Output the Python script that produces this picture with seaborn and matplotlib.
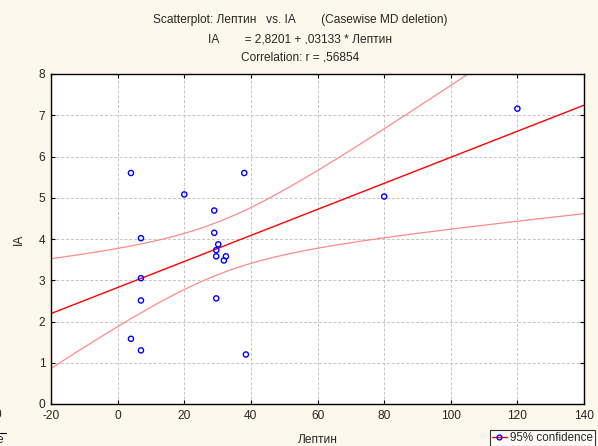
import numpy as np
import pandas as pd
import matplotlib
matplotlib.use("Agg")
import matplotlib.pyplot as plt
from matplotlib.lines import Line2D
import seaborn as sns

# ---- data ----
leptin = [4, 38, 20, 29, 29, 7, 30.2, 29.6, 29.6, 32.5, 31.9, 7, 7, 29.6, 4, 7, 38.5, 120, 80]
ia = [5.6, 5.6, 5.08, 4.69, 4.15, 4.02, 3.87, 3.73, 3.58, 3.58, 3.48, 3.05, 2.51, 2.56, 1.58, 1.30, 1.20, 7.16, 5.03]
x_ticks = [-20, 0, 20, 40, 60, 80, 100, 120, 140]
y_ticks = [0, 1, 2, 3, 4, 5, 6, 7, 8]
title_lines = [
    "Scatterplot: Лептин   vs. IA        (Casewise MD deletion)",
    "IA        = 2,8201 + ,03133 * Лептин",
    "Correlation: r = ,56854",
]
t_crit = 2.1098  # t(0.975, df=17)

sns.set_theme(style="white")
plt.rcParams["font.family"] = ["Liberation Sans", "DejaVu Sans"]

fs = 8.6
bg = "#FDF8EB"
fig = plt.figure(figsize=(5.98, 4.46), dpi=100, facecolor=bg)
ax = fig.add_axes([51 / 598, 42 / 446, 533 / 598, 330 / 446])
ax.set_facecolor("white")

df = pd.DataFrame({"Лептин": leptin, "IA": ia})
ax.set_xlim(-20, 140)
ax.set_ylim(0, 8)

# regression fit and 95% confidence bounds
x = np.asarray(leptin, float)
y = np.asarray(ia, float)
n = len(x)
b1, b0 = np.polyfit(x, y, 1)
resid = y - (b0 + b1 * x)
s = np.sqrt((resid ** 2).sum() / (n - 2))
sxx = ((x - x.mean()) ** 2).sum()
xg = np.linspace(-20, 140, 300)
yg = b0 + b1 * xg
half = t_crit * s * np.sqrt(1 / n + (xg - x.mean()) ** 2 / sxx)
fit = pd.DataFrame({"x": xg, "fit": yg, "lo": yg - half, "hi": yg + half})

sns.lineplot(data=fit, x="x", y="hi", ax=ax, color="#FF8A8A", lw=0.9)
sns.lineplot(data=fit, x="x", y="lo", ax=ax, color="#FF8A8A", lw=0.9)
sns.regplot(data=df, x="Лептин", y="IA", ax=ax, scatter=False, ci=None,
            truncate=False, line_kws=dict(color="#FF0000", lw=1.0))
sns.scatterplot(data=df, x="Лептин", y="IA", ax=ax, marker="o", s=14,
                facecolor="none", edgecolor="#0000FF", linewidth=1.0, zorder=5)

ax.set_xlim(-20, 140)
ax.set_ylim(0, 8)
ax.set_xticks(x_ticks)
ax.set_yticks(y_ticks)
ax.set_xticklabels([str(v) for v in x_ticks], fontsize=fs)
ax.set_yticklabels([str(v) for v in y_ticks], fontsize=fs)
ax.grid(True, color="#C4C4C4", ls=(0, (3, 2)), lw=0.7)
ax.set_axisbelow(True)
ax.tick_params(axis="both", which="both", direction="in", length=3, width=0.8,
               color="black", top=True, right=True, bottom=True, left=True,
               labeltop=False, labelright=False, pad=4)
for sp in ax.spines.values():
    sp.set_color("black")
    sp.set_linewidth(1.0)
    sp.set_visible(True)

ax.set_xlabel("Лептин", fontsize=fs, labelpad=9)
ax.set_ylabel("IA", fontsize=fs, labelpad=10)

for txt, ypx in zip(title_lines, [20, 39, 57]):
    fig.text(300 / 598, 1 - ypx / 446, txt, ha="center", va="center", fontsize=fs)

# cropped artefacts at the left edge (as in the reference)
fig.text(-0.004, 1 - 415 / 446, "0", ha="center", va="center", fontsize=fs)
fig.text(0.0, 1 - 440 / 446, "e", ha="center", va="center", fontsize=fs)
fig.add_artist(Line2D([0, 6 / 598], [1 - 433 / 446] * 2, color="black", lw=0.8))

handle = Line2D([0], [0], color="#FF0000", lw=1.0, marker="o", markersize=3.5,
                markerfacecolor="none", markeredgecolor="#0000FF")
leg = fig.legend([handle], ["95% confidence"], loc="upper left",
                 bbox_to_anchor=(490 / 598, 1 - 430 / 446), fontsize=8.4,
                 frameon=True, fancybox=False, borderpad=0.15, handlelength=1.3,
                 handletextpad=0.3, borderaxespad=0)
leg.get_frame().set_edgecolor("black")
leg.get_frame().set_linewidth(0.8)
leg.get_frame().set_facecolor("white")

fig.savefig("out.png", dpi=100, facecolor=bg)
